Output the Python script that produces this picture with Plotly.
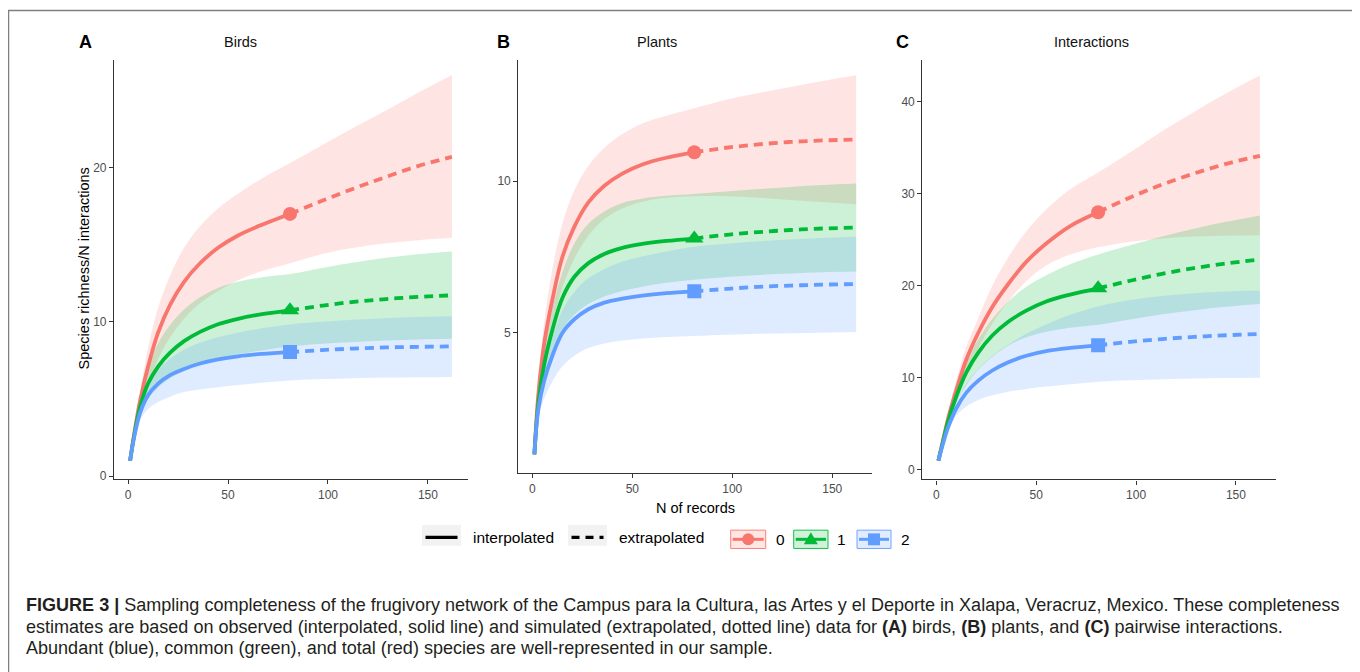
import plotly.graph_objects as go

W, H = 1360, 672

# ---------------- data ----------------
x_int = [1, 3, 6, 10, 15, 21, 28, 36, 45, 55, 67, 81]
x_ext = [81, 97, 113, 129, 145, 162]
x_band = x_int + x_ext[1:]

orders = ["0", "1", "2"]
colors = {"0": "#F8766D", "1": "#00BA38", "2": "#619CFF"}
fills = {"0": "rgba(248,118,109,0.2)", "1": "rgba(0,186,56,0.2)", "2": "rgba(97,156,255,0.2)"}
symbols = {"0": "circle", "1": "triangle-up", "2": "square"}

# Birds (A)
birds_int = {
    "0": [1, 2.7, 4.9, 7.1, 9.3, 11.1, 12.6, 13.8, 14.8, 15.6, 16.3, 17.0],
    "1": [1, 2.6, 4.5, 6.0, 7.1, 8.0, 8.75, 9.35, 9.85, 10.2, 10.5, 10.75],
    "2": [1, 2.5, 4.1, 5.25, 6.0, 6.55, 6.95, 7.3, 7.57, 7.77, 7.92, 8.04],
}
birds_ext = {
    "0": [17.0, 17.85, 18.65, 19.4, 20.1, 20.7],
    "1": [10.75, 11.05, 11.3, 11.48, 11.62, 11.72],
    "2": [8.04, 8.17, 8.27, 8.34, 8.38, 8.41],
}
birds_hi = {
    "0": [1, 2.9, 5.4, 8.3, 10.9, 13.0, 14.8, 16.2, 17.35, 18.3, 19.3, 20.3, 21.45, 22.6, 23.7, 24.85, 26.0],
    "1": [1, 2.8, 5.1, 7.0, 8.6, 9.8, 10.8, 11.6, 12.2, 12.6, 12.9, 13.1, 13.5, 13.85, 14.15, 14.38, 14.56],
    "2": [1, 2.65, 4.5, 5.9, 6.9, 7.6, 8.2, 8.65, 9.0, 9.3, 9.58, 9.83, 10.0, 10.13, 10.24, 10.32, 10.37],
}
birds_lo = {
    "0": [1, 2.5, 4.3, 5.9, 7.6, 9.0, 10.2, 11.2, 12.0, 12.7, 13.3, 13.8, 14.4, 14.8, 15.1, 15.3, 15.45],
    "1": [1, 2.4, 3.9, 5.0, 5.75, 6.35, 6.85, 7.25, 7.6, 7.9, 8.15, 8.4, 8.58, 8.7, 8.8, 8.86, 8.9],
    "2": [1, 2.35, 3.6, 4.35, 4.8, 5.15, 5.45, 5.62, 5.76, 5.9, 6.05, 6.2, 6.29, 6.35, 6.39, 6.41, 6.43],
}

# Plants (B)
plants_int = {
    "0": [1, 3.0, 4.7, 6.1, 7.5, 8.5, 9.3, 9.85, 10.25, 10.55, 10.77, 10.95],
    "1": [1, 2.7, 4.0, 5.1, 6.15, 6.85, 7.3, 7.6, 7.8, 7.93, 8.03, 8.11],
    "2": [1, 2.5, 3.45, 4.25, 5.0, 5.45, 5.78, 6.0, 6.13, 6.23, 6.31, 6.37],
}
plants_ext = {
    "0": [10.95, 11.1, 11.21, 11.29, 11.34, 11.37],
    "1": [8.11, 8.23, 8.32, 8.39, 8.44, 8.47],
    "2": [6.37, 6.45, 6.52, 6.56, 6.59, 6.61],
}
plants_hi = {
    "0": [1, 3.3, 5.4, 7.1, 8.6, 9.7, 10.5, 11.1, 11.55, 11.9, 12.15, 12.4, 12.68, 12.9, 13.1, 13.3, 13.49],
    "1": [1, 2.95, 4.5, 5.8, 7.0, 7.95, 8.6, 9.0, 9.28, 9.43, 9.52, 9.58, 9.66, 9.74, 9.81, 9.87, 9.92],
    "2": [1, 2.7, 3.85, 4.85, 5.75, 6.35, 6.8, 7.1, 7.35, 7.52, 7.68, 7.84, 7.94, 8.02, 8.08, 8.13, 8.17],
}
plants_lo = {
    "0": [1, 2.8, 4.1, 5.3, 6.5, 7.45, 8.2, 8.75, 9.1, 9.32, 9.45, 9.5, 9.5, 9.45, 9.38, 9.31, 9.24],
    "1": [1, 2.45, 3.5, 4.35, 5.1, 5.6, 5.95, 6.2, 6.38, 6.52, 6.65, 6.75, 6.84, 6.91, 6.96, 7.0, 7.02],
    "2": [1, 2.25, 2.85, 3.4, 3.9, 4.25, 4.5, 4.65, 4.75, 4.82, 4.87, 4.9, 4.94, 4.97, 4.99, 5.01, 5.03],
}

# Interactions (C)
inter_int = {
    "0": [1, 2.9, 5.7, 8.7, 12.0, 14.9, 17.7, 20.2, 22.6, 24.6, 26.5, 28.0],
    "1": [1, 2.8, 5.4, 8.0, 10.6, 12.75, 14.6, 16.1, 17.3, 18.3, 19.05, 19.73],
    "2": [1, 2.6, 4.7, 6.7, 8.4, 9.7, 10.8, 11.7, 12.4, 12.9, 13.25, 13.54],
}
inter_ext = {
    "0": [28.0, 29.6, 31.0, 32.2, 33.25, 34.13],
    "1": [19.73, 20.55, 21.3, 21.92, 22.43, 22.86],
    "2": [13.54, 13.92, 14.22, 14.45, 14.63, 14.76],
}
inter_hi = {
    "0": [1, 3.1, 6.3, 9.8, 13.4, 16.5, 20.0, 23.1, 25.9, 28.3, 30.5, 32.3, 34.5, 36.8, 38.9, 40.9, 42.84],
    "1": [1, 3.0, 5.9, 9.0, 11.8, 14.2, 16.4, 18.3, 19.9, 21.15, 22.35, 23.4, 24.4, 25.35, 26.2, 26.95, 27.65],
    "2": [1, 2.75, 5.1, 7.4, 9.4, 11.0, 12.4, 13.6, 14.8, 15.8, 16.85, 17.75, 18.45, 18.9, 19.2, 19.38, 19.48],
}
inter_lo = {
    "0": [1, 2.7, 5.5, 8.0, 10.6, 13.2, 15.9, 18.3, 20.5, 22.2, 23.4, 24.2, 24.8, 25.15, 25.35, 25.45, 25.49],
    "1": [1, 2.6, 4.9, 7.3, 9.2, 10.9, 12.3, 13.5, 14.4, 15.0, 15.45, 15.77, 16.35, 16.9, 17.35, 17.72, 18.03],
    "2": [1, 2.45, 4.3, 5.9, 6.9, 7.6, 8.1, 8.5, 8.8, 9.05, 9.3, 9.58, 9.74, 9.85, 9.93, 9.98, 10.01],
}

panel_titles = ["Birds", "Plants", "Interactions"]
panel_letters = ["A", "B", "C"]
x_ticks = [0, 50, 100, 150]
y_ticks = [[0, 10, 20], [5, 10], [0, 10, 20, 30, 40]]
y_ranges = [[-0.2, 27.0], [0.38, 14.0], [-1.04, 44.57]]
x_range = [-7.05, 170.05]

legend_linetypes = ["interpolated", "extrapolated"]
y_title = "Species richness/N interactions"
x_title = "N of records"
caption_lines = [
    "<b>FIGURE 3 |</b> Sampling completeness of the frugivory network of the Campus para la Cultura, las Artes y el Deporte in Xalapa, Veracruz, Mexico. These completeness",
    "estimates are based on observed (interpolated, solid line) and simulated (extrapolated, dotted line) data for <b>(A)</b> birds, <b>(B)</b> plants, and <b>(C)</b> pairwise interactions.",
    "Abundant (blue), common (green), and total (red) species are well-represented in our sample.",
]

panels = [
    (birds_int, birds_ext, birds_hi, birds_lo),
    (plants_int, plants_ext, plants_hi, plants_lo),
    (inter_int, inter_ext, inter_hi, inter_lo),
]

# ---------------- layout geometry (page pixels) ----------------
px_x = [(114, 468), (518.3, 872.3), (922.3, 1276)]
px_y = [(60, 482), (60, 476), (60, 482.3)]
OFF = 8  # page body margin


def fx(p):
    return (p - OFF) / W


def fy(p):
    return 1 - (p - OFF) / H


fig = go.Figure()
FONT = "Liberation Sans, Arial, Helvetica, sans-serif"
SM = 1.0

for i, (d_int, d_ext, d_hi, d_lo) in enumerate(panels):
    sfx = "" if i == 0 else str(i + 1)
    xa, ya = "x" + sfx, "y" + sfx
    for q in orders:
        fig.add_trace(go.Scatter(x=x_band, y=d_lo[q], xaxis=xa, yaxis=ya, mode="lines",
                                 line=dict(width=0, shape="spline", smoothing=SM),
                                 hoverinfo="skip", showlegend=False))
        fig.add_trace(go.Scatter(x=x_band, y=d_hi[q], xaxis=xa, yaxis=ya, mode="lines",
                                 line=dict(width=0, shape="spline", smoothing=SM),
                                 fill="tonexty", fillcolor=fills[q],
                                 hoverinfo="skip", showlegend=False))
    for q in orders:
        fig.add_trace(go.Scatter(x=x_int, y=d_int[q], xaxis=xa, yaxis=ya, mode="lines",
                                 line=dict(color=colors[q], width=3.8, shape="spline", smoothing=SM),
                                 showlegend=False))
        fig.add_trace(go.Scatter(x=x_ext, y=d_ext[q], xaxis=xa, yaxis=ya, mode="lines",
                                 line=dict(color=colors[q], width=3.8, dash="9px,6px", shape="spline", smoothing=SM),
                                 showlegend=False))
        fig.add_trace(go.Scatter(x=[x_int[-1]], y=[d_int[q][-1]], xaxis=xa, yaxis=ya, mode="markers",
                                 marker=dict(color=colors[q], symbol=symbols[q],
                                             size=14 if q != "1" else 16, line=dict(width=0)),
                                 showlegend=False))

layout = dict(
    width=W, height=H, margin=dict(l=0, r=0, t=0, b=0),
    paper_bgcolor="white", plot_bgcolor="white",
    font=dict(family=FONT, color="#000"),
)
for i in range(3):
    sfx = "" if i == 0 else str(i + 1)
    axis_common = dict(showline=True, linecolor="#333333", linewidth=1.2, ticks="outside",
                       ticklen=4, tickwidth=1.1, tickcolor="#333333", showgrid=False, zeroline=False,
                       tickfont=dict(size=12, color="#4D4D4D", family=FONT))
    layout["xaxis" + sfx] = dict(axis_common, domain=[fx(px_x[i][0]), fx(px_x[i][1])],
                                 range=x_range, tickvals=x_ticks, anchor="y" + sfx)
    layout["yaxis" + sfx] = dict(axis_common, domain=[fy(px_y[i][1]), fy(px_y[i][0])],
                                 range=y_ranges[i], tickvals=y_ticks[i], anchor="x" + sfx)
fig.update_layout(**layout)

ann = []
title_px = [240.7, 657, 1091.7]
letter_px = [85, 503, 902.7]
for i in range(3):
    ann.append(dict(x=fx(title_px[i]), y=fy(42), xref="paper", yref="paper", text=panel_titles[i],
                    showarrow=False, font=dict(size=14.5, color="#111"), xanchor="center", yanchor="middle"))
    ann.append(dict(x=fx(letter_px[i]), y=fy(42), xref="paper", yref="paper", text="<b>%s</b>" % panel_letters[i],
                    showarrow=False, font=dict(size=18, color="#000"), xanchor="center", yanchor="middle"))
ann.append(dict(x=fx(84), y=fy(270), xref="paper", yref="paper", text=y_title, textangle=-90,
                showarrow=False, font=dict(size=14.5, color="#000"), xanchor="center", yanchor="middle"))
ann.append(dict(x=fx(695.7), y=fy(511), xref="paper", yref="paper", text=x_title,
                showarrow=False, font=dict(size=14.5, color="#000"), xanchor="center", yanchor="middle"))

ann.append(dict(x=fx(471), y=fy(541), xref="paper", yref="paper", text=legend_linetypes[0],
                showarrow=False, font=dict(size=15.5, color="#000"), xanchor="left", yanchor="middle"))
ann.append(dict(x=fx(617), y=fy(541), xref="paper", yref="paper", text=legend_linetypes[1],
                showarrow=False, font=dict(size=15.5, color="#000"), xanchor="left", yanchor="middle"))
key_boxes = [(730.7, 765.7), (793.7, 828), (857, 891)]
key_text_x = [780.5, 841.5, 905]
for k, q in enumerate(orders):
    ann.append(dict(x=fx(key_text_x[k]), y=fy(542.5), xref="paper", yref="paper", text=q,
                    showarrow=False, font=dict(size=15.5, color="#000"), xanchor="center", yanchor="middle"))

cap_y = [609, 630.5, 652]
for j, line in enumerate(caption_lines):
    ann.append(dict(x=fx(24), y=fy(cap_y[j]), xref="paper", yref="paper", text=line,
                    showarrow=False, font=dict(size=18.05, color="#231F20"), xanchor="left", yanchor="middle"))

shapes = []
shapes.append(dict(type="rect", xref="paper", yref="paper", x0=fx(8.5), x1=fx(1355), y0=fy(700), y1=fy(10.5),
                   line=dict(color="#7F7F7F", width=1.5), fillcolor="rgba(0,0,0,0)"))
for (a, b), dash in [((422, 461), "solid"), ((568, 607), "dash")]:
    shapes.append(dict(type="rect", xref="paper", yref="paper", x0=fx(a), x1=fx(b), y0=fy(549), y1=fy(528),
                       line=dict(width=0), fillcolor="#F2F2F2"))
    shapes.append(dict(type="line", xref="paper", yref="paper", x0=fx(a + 3.5), x1=fx(b - 3.5), y0=fy(540.5), y1=fy(540.5),
                       line=dict(color="#000", width=3.2, dash="solid" if dash == "solid" else "8px,6px")))
for k, q in enumerate(orders):
    a, b = key_boxes[k]
    cx = (a + b) / 2
    cy = 542.5
    shapes.append(dict(type="rect", xref="paper", yref="paper", x0=fx(a), x1=fx(b), y0=fy(551.7), y1=fy(533.3),
                       line=dict(color=colors[q], width=1), fillcolor=fills[q], opacity=0.9))
    shapes.append(dict(type="line", xref="paper", yref="paper", x0=fx(a + 2), x1=fx(b - 2), y0=fy(cy), y1=fy(cy),
                       line=dict(color=colors[q], width=3)))
    if q == "0":
        shapes.append(dict(type="circle", xref="paper", yref="paper", x0=fx(cx - 6), x1=fx(cx + 6),
                           y0=fy(cy + 6), y1=fy(cy - 6), line=dict(width=0), fillcolor=colors[q]))
    elif q == "1":
        path = "M %f %f L %f %f L %f %f Z" % (fx(cx - 7), fy(cy + 5), fx(cx + 7), fy(cy + 5), fx(cx), fy(cy - 7))
        shapes.append(dict(type="path", xref="paper", yref="paper", path=path, line=dict(width=0), fillcolor=colors[q]))
    else:
        shapes.append(dict(type="rect", xref="paper", yref="paper", x0=fx(cx - 6), x1=fx(cx + 6),
                           y0=fy(cy + 6), y1=fy(cy - 6), line=dict(width=0), fillcolor=colors[q]))

fig.update_layout(annotations=ann, shapes=shapes)
fig.write_html("out.html")
